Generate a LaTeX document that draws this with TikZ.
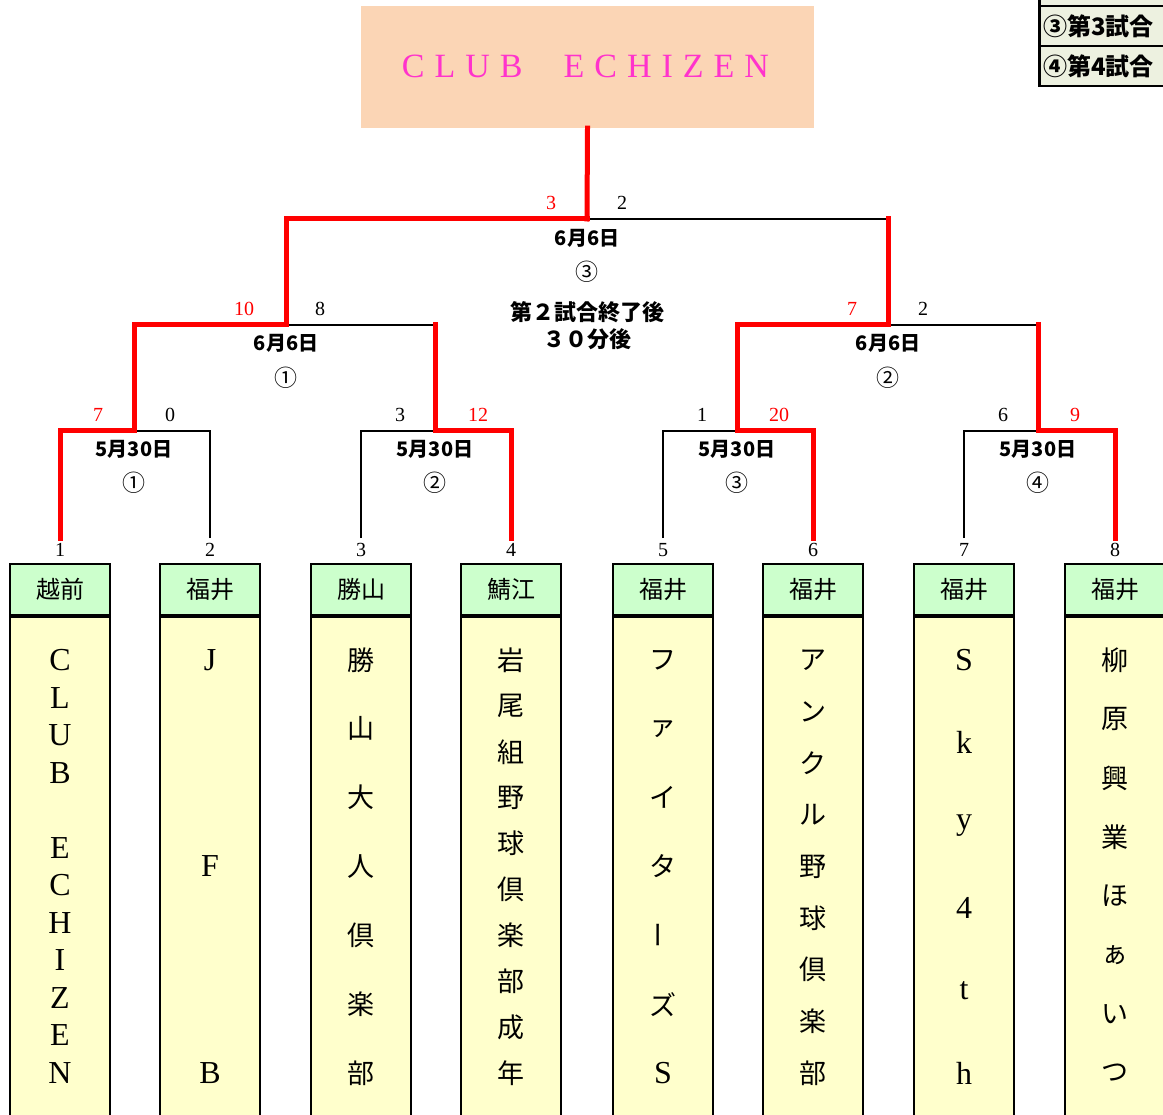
\documentclass[tikz,border=0pt]{standalone}
\usepackage{fontspec}
\setmainfont{Liberation Serif}
\newfontfamily\jp{Noto Sans CJK JP}
\definecolor{champfill}{RGB}{251,213,181}
\definecolor{champtext}{RGB}{255,51,204}
\definecolor{hdrfill}{RGB}{204,255,204}
\definecolor{bodyfill}{RGB}{255,255,204}
\definecolor{legfill}{RGB}{237,241,224}
\definecolor{winred}{RGB}{255,0,0}
\newcommand\fsz[1]{\fontsize{#1}{#1}\selectfont}
\newcommand\teamtext[5]{%
  \foreach \ch [count=\k] in {#5} {
    \node[tchar, font={#4}] (t#1c\k) at (#2, {660+(\k-1)*413/(#3-1)}) {\ch};
  }}
\begin{document}
\begin{tikzpicture}[x=1pt,y=-1pt,
  winline/.style={line width=5pt, draw=winred, line cap=rect, line join=miter},
  loseline/.style={line width=2pt, draw=black, line join=miter},
  score/.style={font=\fsz{20}, inner sep=0pt},
  wscore/.style={score, text=winred},
  datelbl/.style={font=\jp\bfseries\fsz{20}, inner sep=0pt},
  circ/.style={font=\jp\fsz{23}, inner sep=0pt},
  seed/.style={font=\fsz{20}, inner sep=0pt},
  hdr/.style={draw, line width=1.8pt, fill=hdrfill, minimum width=100pt, minimum height=51pt, inner sep=0pt, font=\jp\fsz{24}},
  body/.style={draw, line width=1.8pt, fill=bodyfill, minimum width=100pt, minimum height=530pt, anchor=north},
  tchar/.style={inner sep=0pt},
  legrow/.style={draw, line width=2.5pt, fill=legfill, anchor=north west, minimum height=40pt, text width=160pt, align=left, inner xsep=4pt, inner ysep=0pt, font=\jp\bfseries\fsz{24}},
  champbox/.style={fill=champfill, minimum width=453pt, minimum height=122pt, inner sep=0pt}
]
\useasboundingbox (0,0) rectangle (1163,1115);
\clip (0,0) rectangle (1163,1115);

% legend
\node[legrow] (lg0) at (1038,-35) {};
\node[legrow] (lg1) at (1038,5) {③第3試合};
\node[legrow] (lg2) at (1038,45) {④第4試合};

% champion
\node[champbox] (champ) at (587.5,67) {};
\node[inner sep=0pt, text=champtext, font=\fsz{34}] (champname) at (585.5,66.5)
  {\spaceskip=10pt C L U B\hspace{41pt}E C H I Z E N};

% coordinates
\foreach \i/\x in {1/60,2/210,3/361,4/511,5/663,6/813,7/964,8/1115} {
  \coordinate (s\i) at (\x,538);
  \node[seed] (n\i) at (\x,550) {\i};
}
\coordinate (m1) at (134,431);
\coordinate (m2) at (435,431);
\coordinate (m3) at (737,431);
\coordinate (m4) at (1038,431);
\coordinate (sf1) at (286,325);
\coordinate (sf2) at (888,325);
\coordinate (fin) at (587,219);

% loser lines
\draw[loseline] (s2) |- (m1);
\draw[loseline] (s3) |- (m2);
\draw[loseline] (s5) |- (m3);
\draw[loseline] (s7) |- (m4);
\draw[loseline] (m2 |- sf1) -- (sf1);
\draw[loseline] (m4 |- sf2) -- (sf2);
\draw[loseline] (sf2 |- fin) -- (fin);
% winner lines
\draw[winline] (s1) |- (m1);
\draw[winline] (s4) |- (m2);
\draw[winline] (s6) |- (m3);
\draw[winline] (s8) |- (m4);
\draw[winline] (m1) |- (sf1);
\draw[winline] (m2) -- (m2 |- sf1);
\draw[winline] (m3) |- (sf2);
\draw[winline] (m4) -- (m4 |- sf2);
\draw[winline] (sf1) |- (fin);
\draw[winline] (sf2) -- (sf2 |- fin);
\draw[winline] (fin) -- (champ.south);

% scores
\node[wscore] (sc1a) at (98,415) {7};
\node[score] (sc1b) at (170,415) {0};
\node[score] (sc2a) at (400,415) {3};
\node[wscore] (sc2b) at (478,415) {12};
\node[score] (sc3a) at (702,415) {1};
\node[wscore] (sc3b) at (779,415) {20};
\node[score] (sc4a) at (1003,415) {6};
\node[wscore] (sc4b) at (1075,415) {9};
\node[wscore] (sc5a) at (244,309) {10};
\node[score] (sc5b) at (320,309) {8};
\node[wscore] (sc6a) at (852,309) {7};
\node[score] (sc6b) at (923,309) {2};
\node[wscore] (sc7a) at (551,203) {3};
\node[score] (sc7b) at (622,203) {2};

% dates
\foreach \m/\c in {m1/①,m2/②,m3/③,m4/④} {
  \node[datelbl] (d\m) at ([yshift=-18pt]\m) {5月30日};
  \node[circ] (c\m) at ([yshift=-52pt]\m) {\c};
}
\node[datelbl] (dsf1) at (286,343) {6月6日};
\node[circ] (csf1) at (286,378) {①};
\node[datelbl] (dsf2) at (888,343) {6月6日};
\node[circ] (csf2) at (888,378) {②};
\node[datelbl] (dfin) at (587,238) {6月6日};
\node[circ] (cfin) at (587,272) {③};
\node[inner sep=0pt, align=center, font=\jp\bfseries\fontsize{22}{27}\selectfont] (note) at (587,325.5) {第２試合終了後\\３０分後};

% team headers and bodies
\foreach \i/\x/\p in {1/60/越前,2/210/福井,3/361/勝山,4/511/鯖江,5/663/福井,6/813/福井,7/964/福井,8/1115/福井} {
  \node[hdr] (h\i) at (\x,589.5) {\p};
  \node[body] (b\i) at (h\i.south) {};
}

\teamtext{1}{60}{12}{\rmfamily\fsz{32}}{C,L,U,B,{},E,C,H,I,Z,E,N}
\teamtext{2}{210}{3}{\rmfamily\fsz{32}}{J,F,B}
\teamtext{3}{361}{7}{\jp\fsz{27}}{勝,山,大,人,倶,楽,部}
\teamtext{4}{511}{10}{\jp\fsz{27}}{岩,尾,組,野,球,倶,楽,部,成,年}
\teamtext{5}{663}{7}{\jp\fsz{27}}{フ,ァ,イ,タ,{\rotatebox{90}{ー}},ズ,{\rmfamily\fsz{32}S}}
\teamtext{6}{813}{9}{\jp\fsz{27}}{ア,ン,ク,ル,野,球,倶,楽,部}
\teamtext{7}{964}{6}{\rmfamily\fsz{32}}{S,k,y,4,t,h}
\teamtext{8}{1115}{8}{\jp\fsz{27}}{柳,原,興,業,ほ,ぁ,い,つ}
\end{tikzpicture}
\end{document}
